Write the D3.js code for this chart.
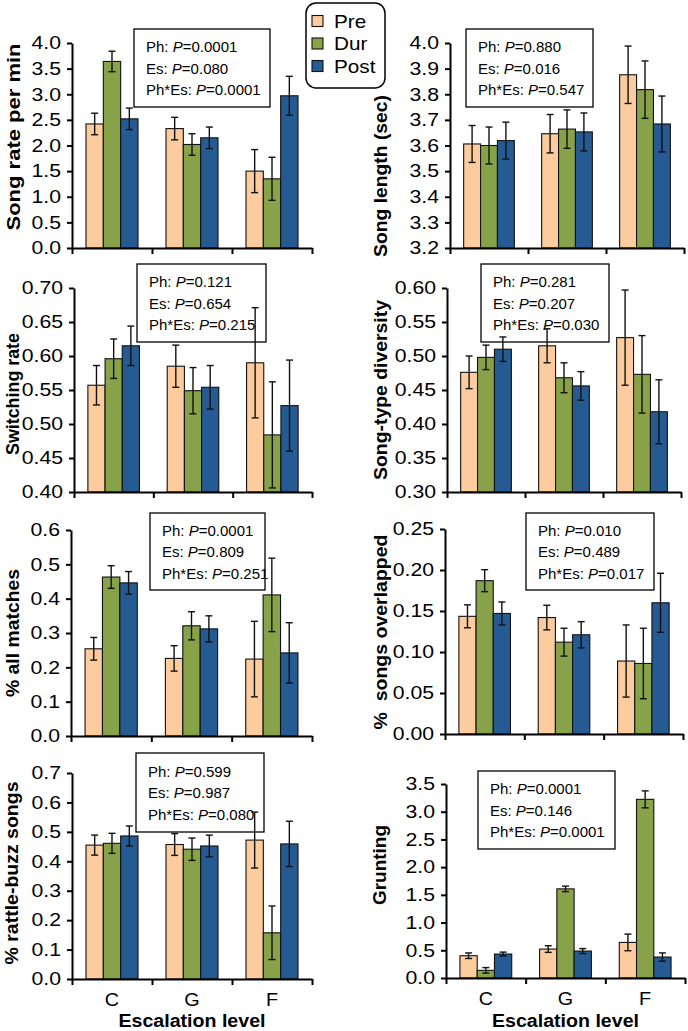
<!DOCTYPE html>
<html><head><meta charset="utf-8">
<script src="https://cdn.jsdelivr.net/npm/d3@7"></script>
<style>
body{margin:0;background:#fff}
svg{display:block}
text{font-family:"Liberation Sans",Arial,Helvetica,sans-serif;fill:#000}
</style>
</head><body>
<svg id="c" width="688" height="1031"></svg>
<script>
// ---------- data ----------
const categories = ["C", "G", "F"];
const seriesNames = ["Pre", "Dur", "Post"];
const seriesColors = ["#FCCB9E", "#88A24A", "#255B92"];

// rows = Pre, Dur, Post ; columns = C, G, F
const songRateMean = [[2.42, 2.33, 1.50], [3.64, 2.02, 1.35], [2.52, 2.15, 2.97]];
const songRateErr  = [[0.21, 0.22, 0.42], [0.20, 0.21, 0.42], [0.21, 0.21, 0.38]];
const songRateTicks = [0, 0.5, 1.0, 1.5, 2.0, 2.5, 3.0, 3.5, 4.0];
const songRateStats = ["0.0001", "0.080", "0.0001"];

const songLengthMean = [[3.606, 3.646, 3.876], [3.600, 3.664, 3.818], [3.619, 3.653, 3.684]];
const songLengthErr  = [[0.072, 0.075, 0.112], [0.072, 0.075, 0.112], [0.072, 0.074, 0.109]];
const songLengthTicks = [3.2, 3.3, 3.4, 3.5, 3.6, 3.7, 3.8, 3.9, 4.0];
const songLengthStats = ["0.880", "0.016", "0.547"];

const switchingMean = [[0.557, 0.585, 0.590], [0.596, 0.549, 0.484], [0.615, 0.554, 0.527]];
const switchingErr  = [[0.029, 0.031, 0.081], [0.029, 0.034, 0.078], [0.029, 0.032, 0.067]];
const switchingTicks = [0.40, 0.45, 0.50, 0.55, 0.60, 0.65, 0.70];
const switchingStats = ["0.121", "0.654", "0.215"];

const diversityMean = [[0.476, 0.515, 0.527], [0.498, 0.468, 0.473], [0.510, 0.456, 0.418]];
const diversityErr  = [[0.024, 0.025, 0.070], [0.018, 0.022, 0.057], [0.018, 0.021, 0.047]];
const diversityTicks = [0.30, 0.35, 0.40, 0.45, 0.50, 0.55, 0.60];
const diversityStats = ["0.281", "0.207", "0.030"];

const matchesMean = [[0.254, 0.226, 0.224], [0.463, 0.321, 0.411], [0.446, 0.312, 0.242]];
const matchesErr  = [[0.033, 0.037, 0.110], [0.033, 0.041, 0.107], [0.033, 0.038, 0.088]];
const matchesTicks = [0, 0.1, 0.2, 0.3, 0.4, 0.5, 0.6];
const matchesStats = ["0.0001", "0.809", "0.251"];

const overlapMean = [[0.1435, 0.142, 0.089], [0.187, 0.112, 0.086], [0.147, 0.121, 0.160]];
const overlapErr  = [[0.014, 0.015, 0.044], [0.0134, 0.017, 0.043], [0.014, 0.016, 0.036]];
const overlapTicks = [0, 0.05, 0.10, 0.15, 0.20, 0.25];
const overlapStats = ["0.010", "0.489", "0.017"];

const rattleMean = [[0.455, 0.457, 0.472], [0.461, 0.441, 0.157], [0.486, 0.452, 0.459]];
const rattleErr  = [[0.034, 0.037, 0.095], [0.034, 0.038, 0.091], [0.034, 0.037, 0.077]];
const rattleTicks = [0, 0.1, 0.2, 0.3, 0.4, 0.5, 0.6, 0.7];
const rattleStats = ["0.599", "0.987", "0.080"];

const gruntMean = [[0.402, 0.522, 0.642], [0.138, 1.608, 3.223], [0.432, 0.486, 0.378]];
const gruntErr  = [[0.05, 0.06, 0.15], [0.05, 0.05, 0.153], [0.035, 0.045, 0.075]];
const gruntTicks = [0, 0.5, 1.0, 1.5, 2.0, 2.5, 3.0, 3.5];
const gruntStats = ["0.0001", "0.146", "0.0001"];

const statLabels = ["Ph: ", "Es: ", "Ph*Es: "];
const xTitle = "Escalation level";

// ---------- layout ----------
const panels = [
  {title:"Song rate per min", mean:songRateMean, err:songRateErr, ticks:songRateTicks, fmt:".1f", stats:songRateStats,
   x0:72, x1:312, y0:43, y1:248, tx:14, ty:137, tlen:187, box:[134,29,136,78]},
  {title:"Song length (sec)", mean:songLengthMean, err:songLengthErr, ticks:songLengthTicks, fmt:".1f", stats:songLengthStats,
   x0:450, x1:684, y0:43, y1:248, tx:381, ty:176, tlen:162, box:[466,29,127,78]},
  {title:"Switching rate", mean:switchingMean, err:switchingErr, ticks:switchingTicks, fmt:".2f", stats:switchingStats,
   x0:74, x1:312, y0:288, y1:492, tx:13, ty:394, tlen:122, box:[137,264,129,78]},
  {title:"Song-type diversity", mean:diversityMean, err:diversityErr, ticks:diversityTicks, fmt:".2f", stats:diversityStats,
   x0:447, x1:681, y0:288, y1:492, tx:381, ty:390, tlen:180, box:[481,264,128,78]},
  {title:"% all matches", mean:matchesMean, err:matchesErr, ticks:matchesTicks, fmt:".1f", stats:matchesStats,
   x0:71, x1:312, y0:530, y1:736, tx:13, ty:633, tlen:128, box:[150,513,115,77]},
  {title:"%  songs overlapped", mean:overlapMean, err:overlapErr, ticks:overlapTicks, fmt:".2f", stats:overlapStats,
   x0:445, x1:683, y0:529, y1:734, tx:381, ty:632, tlen:195, box:[526,513,128,77]},
  {title:"% rattle-buzz songs", mean:rattleMean, err:rattleErr, ticks:rattleTicks, fmt:".1f", stats:rattleStats,
   x0:72, x1:312, y0:773, y1:979, tx:12, ty:873, tlen:183, box:[136,753,128,79], bottom:true},
  {title:"Grunting", mean:gruntMean, err:gruntErr, ticks:gruntTicks, fmt:".1f", stats:gruntStats,
   x0:446, x1:685, y0:784, y1:978, tx:380, ty:865, tlen:80, box:[478,771,137,78], bottom:true}
];

const svg = d3.select("#c");

function stretch(sel, sx) {
  sel.each(function() {
    const t = d3.select(this);
    const x = +t.attr("x") || 0;
    const y = +t.attr("y") || 0;
    t.attr("x", 0).attr("y", 0).attr("transform", `translate(${x},${y}) scale(${sx},1)`);
  });
}

panels.forEach(p => {
  const g = svg.append("g");
  const y = d3.scaleLinear().domain([p.ticks[0], p.ticks[p.ticks.length - 1]]).range([p.y1, p.y0]);
  const xb = d3.scaleBand().domain(categories).range([p.x0, p.x1]).padding(0);
  const xs = d3.scaleBand().domain(seriesNames)
    .range([xb.bandwidth() * 0.175, xb.bandwidth() * 0.825]).padding(0);
  const xl = d3.scaleLinear().domain([0, categories.length]).range([p.x0, p.x1]);

  // stats box
  const [bx, by, bw, bh] = p.box;
  g.append("rect").attr("x", bx).attr("y", by).attr("width", bw).attr("height", bh)
    .attr("fill", "#fff").attr("stroke", "#000").attr("stroke-width", 1.3);
  const cy = by + bh / 2;
  statLabels.forEach((lab, i) => {
    const t = g.append("text").attr("x", bx + 12).attr("y", cy + (i - 1) * 21.5 + 5.5)
      .attr("font-size", 15);
    t.append("tspan").text(lab);
    t.append("tspan").attr("font-style", "italic").text("P");
    t.append("tspan").text("=" + p.stats[i]);
  });

  // bars
  const base = y.domain()[0];
  seriesNames.forEach((s, si) => {
    g.append("g").selectAll("rect").data(p.mean[si]).join("rect")
      .attr("x", (d, ci) => xb(categories[ci]) + xs(s))
      .attr("width", xs.bandwidth())
      .attr("y", d => y(d))
      .attr("height", d => y(base) - y(d))
      .attr("fill", seriesColors[si])
      .attr("stroke", "#111").attr("stroke-width", 1.1);
  });
  // error bars
  seriesNames.forEach((s, si) => {
    const eg = g.append("g").attr("stroke", "#111").attr("stroke-width", 1.4);
    p.mean[si].forEach((m, ci) => {
      const cx = xb(categories[ci]) + xs(s) + xs.bandwidth() / 2;
      const lo = m - p.err[si][ci], hi = m + p.err[si][ci];
      eg.append("line").attr("x1", cx).attr("x2", cx).attr("y1", y(lo)).attr("y2", y(hi));
      eg.append("line").attr("x1", cx - 3.5).attr("x2", cx + 3.5).attr("y1", y(lo)).attr("y2", y(lo));
      eg.append("line").attr("x1", cx - 3.5).attr("x2", cx + 3.5).attr("y1", y(hi)).attr("y2", y(hi));
    });
  });

  // y axis
  const ya = g.append("g").attr("transform", `translate(${p.x0},0)`)
    .call(d3.axisLeft(y).tickValues(p.ticks).tickFormat(d3.format(p.fmt)).tickSize(5).tickSizeOuter(0).tickPadding(6));
  ya.select(".domain").attr("stroke", "#000").attr("stroke-width", 2);
  ya.selectAll(".tick line").attr("stroke", "#000").attr("stroke-width", 2);
  ya.selectAll("text").attr("font-size", 18).attr("font-family", null).attr("fill", "#000");
  stretch(ya.selectAll("text"), 1.18);

  // x axis (ticks at band boundaries)
  const xa = g.append("g").attr("transform", `translate(0,${p.y1})`)
    .call(d3.axisBottom(xl).tickValues(d3.range(categories.length + 1)).tickFormat("").tickSize(6).tickSizeOuter(0));
  xa.select(".domain").attr("stroke", "#000").attr("stroke-width", 2);
  xa.selectAll(".tick line").attr("stroke", "#000").attr("stroke-width", 2);

  if (p.bottom) {
    const ca = g.append("g").attr("transform", `translate(0,${p.y1})`)
      .call(d3.axisBottom(xb).tickSize(0).tickPadding(14));
    ca.select(".domain").remove();
    ca.selectAll("text").attr("font-size", 18).attr("font-family", null).attr("fill", "#000").attr("dy", "0.71em");
    stretch(ca.selectAll("text"), 1.1);
    g.append("text").attr("x", (p.x0 + p.x1) / 2).attr("y", 1027)
      .attr("text-anchor", "middle").attr("font-weight", "bold").attr("font-size", 18)
      .attr("textLength", 147).attr("lengthAdjust", "spacingAndGlyphs").text(xTitle);
  }

  // y title
  g.append("text")
    .attr("transform", `translate(${p.tx + 6},${p.ty}) rotate(-90)`)
    .attr("text-anchor", "middle").attr("font-weight", "bold").attr("font-size", 19)
    .attr("textLength", p.tlen).attr("lengthAdjust", "spacingAndGlyphs")
    .style("white-space", "pre")
    .text(p.title);
});

// legend
const lg = svg.append("g");
lg.append("rect").attr("x", 306).attr("y", 3).attr("width", 79).attr("height", 85).attr("rx", 10)
  .attr("fill", "#fff").attr("stroke", "#000").attr("stroke-width", 1.5);
seriesNames.forEach((s, i) => {
  const cy = 21 + i * 22.5;
  lg.append("rect").attr("x", 312).attr("y", cy - 5.5).attr("width", 11).attr("height", 11)
    .attr("fill", seriesColors[i]).attr("stroke", "#111").attr("stroke-width", 1.1);
  const t = lg.append("text").attr("x", 334).attr("y", cy + 6.5).attr("font-size", 18).text(s);
  stretch(t, 1.15);
});
</script>
</body></html>
